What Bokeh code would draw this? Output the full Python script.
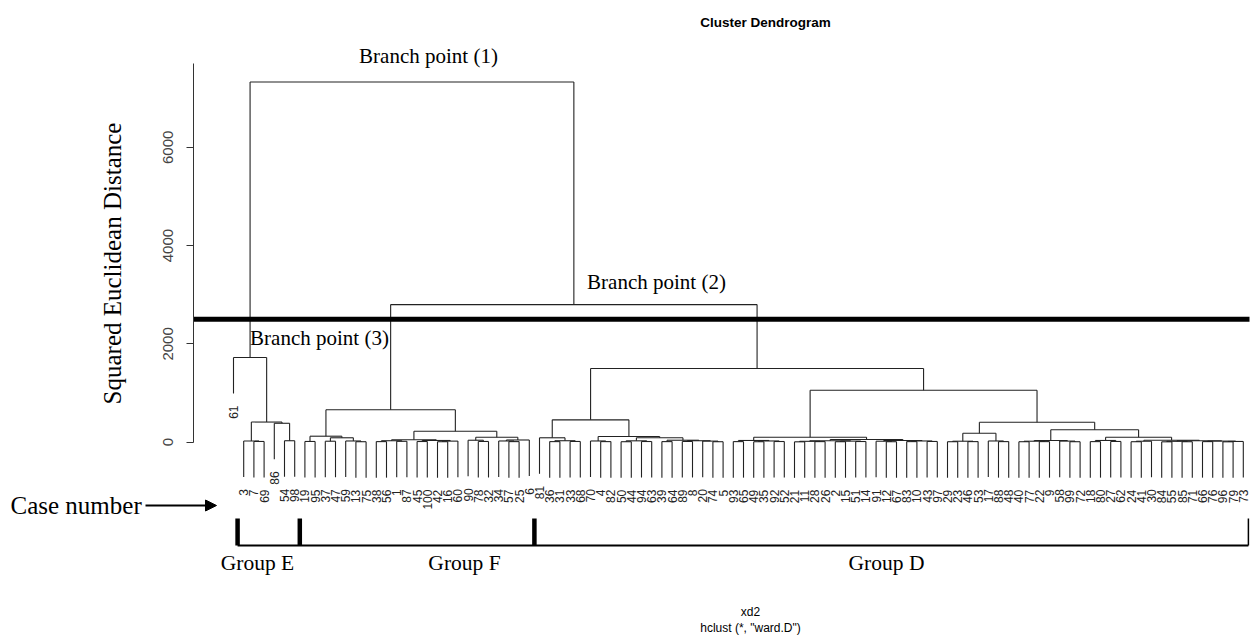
import math
from bokeh.plotting import figure
from bokeh.models import (Range1d, LinearAxis, FixedTicker, ColumnDataSource,
                          Label, Arrow, NormalHead)
from bokeh.core.properties import value
from bokeh.embed import file_html
from bokeh.resources import INLINE

# ------------------------------------------------------------------ data
# merge heights (squared Euclidean distance, Ward's method)
h_root = 7330          # Branch point (1)
h_FD = 2800            # Branch point (2)
h_D = 1500
cut_height = 2500
y_ticks = [0, 2000, 4000, 6000]
y_axis_top = 7700

# sub-trees: [merge height, left, right]; leaves are case numbers
tree_E = [1724, "61", [410, [25, "3", [15, "7", "69"]], [385, "86", [30, "54", "98"]]]]
tree_F = [659,
          [122, [15, "19", "95"], [90, [20, "37", "47"], [25, "59", [10, "13", "75"]]]],
          [224,
           [50, [30, [12, "38", "56"], [18, "1", "87"]],
                [35, [14, "45", "100"], [22, [10, "42", "16"], "60"]]],
           [102, [40, "90", [15, "78", "32"]], [45, [25, "34", [12, "57", "25"]], "6"]]]]
tree_DL = [455,
           [90, "81", [30, [12, "36", "31"], [15, "33", "68"]]],
           [115, [25, "70", [12, "4", "82"]],
                 [90, [28, [10, "50", "44"], [14, "94", "63"]],
                      [40, [12, "39", "64"], [30, [15, "89", "8"], [22, "20", [10, "74", "5"]]]]]]]
tree_DR = [1058,
           [102, [35, [12, "93", "65"], [25, [10, "49", "35"], [14, "92", "52"]]],
                 [55, [30, [18, [8, "21", "11"], [12, "28", "26"]], [22, [10, "2", "15"], [14, "51", "14"]]],
                      [35, [20, "91", [10, "12", "67"]], [25, [12, "83", "10"], [15, "43", "97"]]]]],
           [407, [183, [20, [10, "29", "23"], [12, "46", "53"]], [25, "17", [12, "88", "48"]]],
                 [252, [35, [20, [10, "40", "77"], [12, "22", "9"]], [22, "58", [10, "99", "72"]]],
                       [102, [35, [12, "18", "80"], [15, "27", "62"]],
                             [40, [20, [10, "24", "41"], "30"],
                                  [30, [18, [8, "84", "55"], [10, "85", "71"]],
                                       [22, [12, "66", "76"], [15, [8, "96", "79"], "73"]]]]]]]]

group_names = ["Group E", "Group F", "Group D"]
group_sizes = [7, 23, 70]

tree = [h_root, tree_E, [h_FD, tree_F, [h_D, tree_DL, tree_DR]]]
hang = 0.1 * h_root

# ------------------------------------------------------------------ geometry (page pixels)
W, H = 1252, 643
LEAF_PX = 10.2
LEAF0_PX = 233
ZERO_PY = 441.7
UPP = 2000 / 98.3                      # distance units per pixel
x0 = -LEAF0_PX / LEAF_PX
x1 = x0 + W / LEAF_PX
y1 = ZERO_PY * UPP
y0 = -(H - ZERO_PY) * UPP


def X(px):
    return x0 + px / LEAF_PX


def Y(py):
    return y1 - py * UPP


# ------------------------------------------------------------------ dendrogram layout
seg = dict(x0=[], y0=[], x1=[], y1=[])
leaves = dict(x=[], y=[], lab=[])
counter = [0]


def layout(node):
    if isinstance(node, str):
        i = counter[0]
        counter[0] += 1
        return float(i), None, node
    h, a, b = node
    kids = [layout(a), layout(b)]
    seg["x0"].append(kids[0][0]); seg["x1"].append(kids[1][0])
    seg["y0"].append(h); seg["y1"].append(h)
    for xc, hc, lab in kids:
        bottom = hc if hc is not None else h - hang
        seg["x0"].append(xc); seg["x1"].append(xc)
        seg["y0"].append(h); seg["y1"].append(bottom)
        if hc is None:
            leaves["x"].append(xc)
            leaves["y"].append(bottom - 12 * UPP)
            leaves["lab"].append(lab)
    return (kids[0][0] + kids[1][0]) / 2, h, None


layout(tree)
n_leaves = counter[0]

# ------------------------------------------------------------------ figure
p = figure(width=W, height=H, output_backend="svg", toolbar_location=None,
           x_axis_type=None, y_axis_type=None, title=None,
           x_range=Range1d(x0, x1), y_range=Range1d(y0, y1),
           min_border=0, min_border_left=0, min_border_right=0,
           min_border_top=0, min_border_bottom=0)
p.outline_line_color = None
p.background_fill_color = "white"
p.border_fill_color = "white"

yax = LinearAxis(ticker=FixedTicker(ticks=y_ticks), bounds=(0, y_axis_top),
                 fixed_location=X(193),
                 major_label_orientation="vertical", major_label_text_font="Liberation Sans",
                 major_label_text_font_size="15px", major_label_text_color="#444444",
                 major_label_standoff=13,
                 major_tick_out=7, major_tick_in=0, minor_tick_out=0, minor_tick_in=0,
                 axis_line_color="#333333", major_tick_line_color="#333333")
p.add_layout(yax, "left")

p.add_layout(Label(x=X(112), y=Y(263), text="Squared Euclidean Distance", angle=math.pi / 2,
                   text_align="center", text_baseline="middle", text_font="Liberation Serif",
                   text_font_size="25px", text_color="black"))

p.segment(x0="x0", y0="y0", x1="x1", y1="y1", source=ColumnDataSource(seg),
          line_color="#222222", line_width=1.1)

p.text(x="x", y="y", text="lab", source=ColumnDataSource(leaves), angle=math.pi / 2,
       text_align="right", text_baseline="middle", text_font=value("Liberation Sans"),
       text_font_size="12px", text_color="#222222")

# cut line
p.segment(x0=[X(193)], y0=[cut_height], x1=[X(1249)], y1=[cut_height],
          line_color="black", line_width=5)

# group brackets
edges = [0.4]
acc = -0.5
for s in group_sizes:
    acc += s
    edges.append(acc)
edges[-1] = n_leaves - 0.5
ytop, ybot = Y(518), Y(545)
p.segment(x0=edges[:-1], y0=[ytop] * 3, x1=edges[:-1], y1=[ybot] * 3,
          line_color="black", line_width=4.5)
p.segment(x0=[edges[-1]], y0=[ytop], x1=[edges[-1]], y1=[ybot], line_color="black", line_width=1.5)
p.segment(x0=[edges[0]], y0=[ybot], x1=[edges[-1]], y1=[ybot], line_color="black", line_width=2.2)

group_cx = [X(257), X(464), X(886)]
for name, cx in zip(group_names, group_cx):
    p.add_layout(Label(x=cx, y=Y(562), text=name, text_align="center", text_baseline="middle",
                       text_font="Liberation Serif", text_font_size="21.5px", text_color="black"))

# branch point labels
for txt, px, py in [("Branch point (1)", 428, 55), ("Branch point (2)", 656, 281),
                    ("Branch point (3)", 319, 337)]:
    p.add_layout(Label(x=X(px), y=Y(py), text=txt, text_align="center", text_baseline="middle",
                       text_font="Liberation Serif", text_font_size="21px", text_color="black"))

# titles
p.add_layout(Label(x=X(765), y=Y(22), text="Cluster Dendrogram", text_align="center",
                   text_baseline="middle", text_font="Liberation Sans", text_font_size="13.5px",
                   text_font_style="bold", text_color="black"))
p.add_layout(Label(x=X(750), y=Y(611), text="xd2", text_align="center",
                   text_baseline="middle", text_font="Liberation Sans", text_font_size="12px",
                   text_color="black"))
p.add_layout(Label(x=X(750), y=Y(627), text='hclust (*, "ward.D")', text_align="center",
                   text_baseline="middle", text_font="Liberation Sans", text_font_size="12px",
                   text_color="black"))

# case number arrow
p.add_layout(Label(x=X(10), y=Y(505), text="Case number", text_align="left",
                   text_baseline="middle", text_font="Liberation Serif", text_font_size="25px",
                   text_color="black"))
p.add_layout(Arrow(x_start=X(145), y_start=Y(505), x_end=X(216), y_end=Y(505),
                   line_width=2, line_color="black",
                   end=NormalHead(size=11, fill_color="black", line_color="black")))

open("out.html", "w").write(file_html(p, INLINE))
